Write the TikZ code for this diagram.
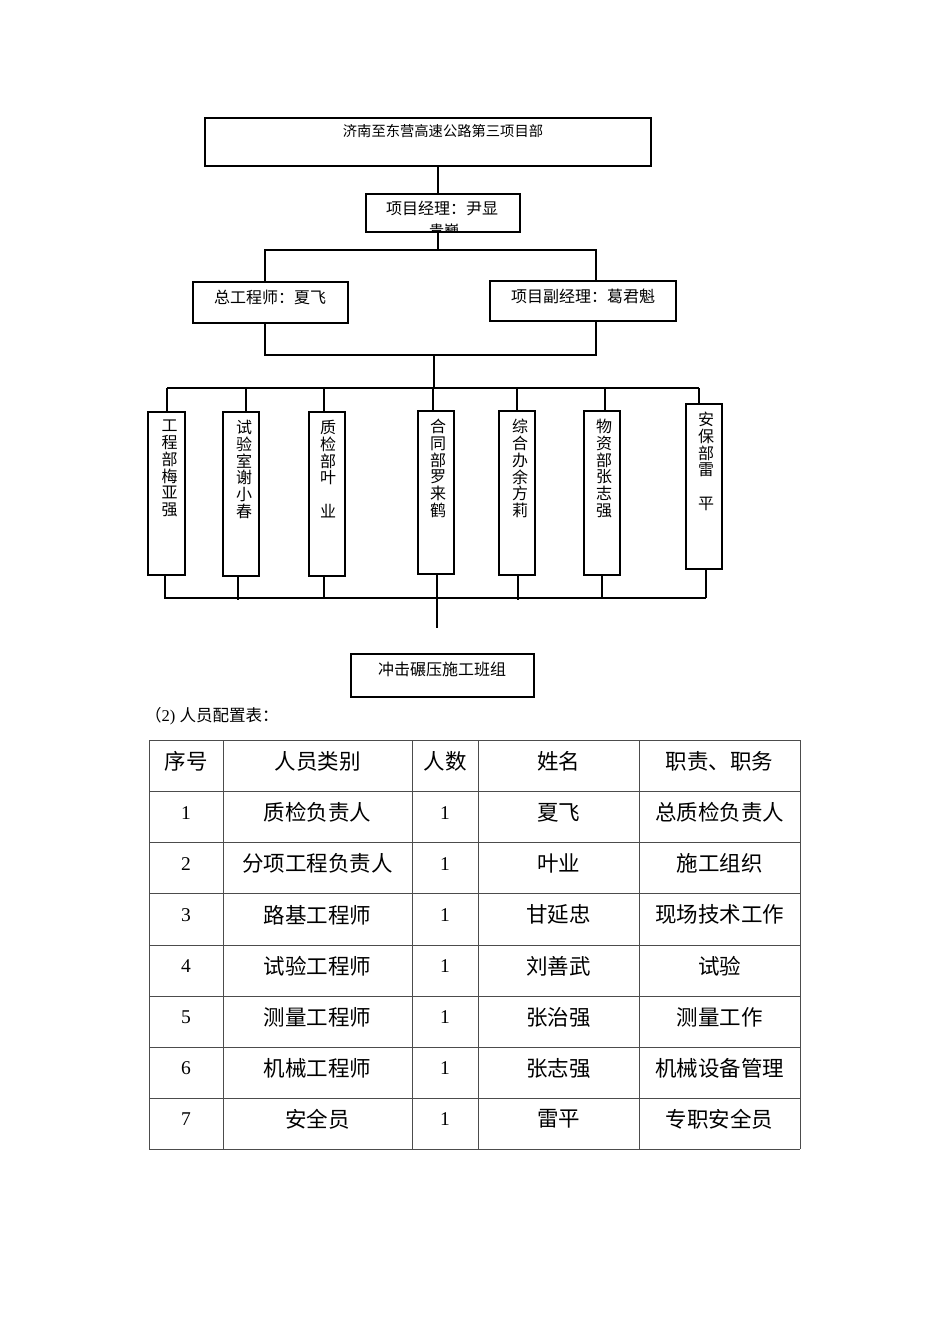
\documentclass[tikz,border=0pt]{standalone}
\usepackage{fontspec}
\setmainfont{Liberation Serif}
\newfontfamily\cjk{Noto Sans CJK SC}
\usetikzlibrary{calc}
\tikzset{
  orgbox/.style={draw, line width=1.2pt, inner sep=0pt},
  ln/.style={line width=1.2pt},
  txt/.style={inner sep=0pt, font=\cjk\fontsize{16}{16}\selectfont},
  vtxt/.style={inner sep=0pt, anchor=north, align=center, font=\cjk\fontsize{16}{16.8}\selectfont},
  grid/.style={line width=0.9pt, draw=black!70},
  cell/.style={inner sep=0pt, font=\cjk\fontsize{21.5}{21.5}\selectfont},
  num/.style={inner sep=0pt, font=\fontsize{19.5}{19.5}\selectfont}
}
\begin{document}
\begin{tikzpicture}[x=1pt,y=-1pt]
\useasboundingbox[fill=white] (0,0) rectangle (950,1344);

% top box
\node[orgbox, minimum width=446, minimum height=48] (top) at (428,142) {};
\node[txt, font=\cjk\fontsize{14.3}{14.3}\selectfont] (toptxt) at (443,131) {济南至东营高速公路第三项目部};

% project manager
\node[orgbox, minimum width=154, minimum height=38] (pm) at (443,213) {};
\node[txt] (pmtxt) at (442,208) {项目经理：尹显};
\begin{scope}
\clip (366,194) rectangle (520,231.5);
\node[txt, font=\cjk\fontsize{15}{15}\selectfont] (pmtxt2) at (444,230.5) {贵巍};
\end{scope}

% chief engineer & deputy manager
\node[orgbox, minimum width=155, minimum height=41] (ce) at (270.5,302.5) {};
\node[txt] (cetxt) at (270,297) {总工程师：夏飞};
\node[orgbox, minimum width=186, minimum height=40] (vm) at (583,301) {};
\node[txt] (vmtxt) at (583,296) {项目副经理：葛君魁};

% junction coordinates
\coordinate (v0) at (438,250);
\coordinate (jl) at (265,250);
\coordinate (jr) at (596,250);
\coordinate (kl) at (265,355);
\coordinate (kr) at (596,355);
\coordinate (km) at (434,355);
\coordinate (busm) at (434,388);

\draw[ln] (top.south -| v0) -- (pm.north -| v0);
\draw[ln] (pm.south -| v0) -- (v0);
\draw[ln] (ce.north -| jl) -- (jl) -- (jr) -- (vm.north -| jr);
\draw[ln] (ce.south -| kl) -- (kl) -- (kr) -- (vm.south -| kr);
\draw[ln] (km) -- (busm);

% department boxes
\node[orgbox, minimum width=37, minimum height=163] (b1) at (166.5,493.5) {};
\node[orgbox, minimum width=36, minimum height=164] (b2) at (241,494) {};
\node[orgbox, minimum width=36, minimum height=164] (b3) at (327,494) {};
\node[orgbox, minimum width=36, minimum height=163] (b4) at (436,492.5) {};
\node[orgbox, minimum width=36, minimum height=164] (b5) at (517,493) {};
\node[orgbox, minimum width=36, minimum height=164] (b6) at (602,493) {};
\node[orgbox, minimum width=36, minimum height=165] (b7) at (704,486.5) {};

\node[vtxt] (t1) at ($(b1.north)+(3,8.5)$) {工\\程\\部\\梅\\亚\\强};
\node[vtxt] (t2) at ($(b2.north)+(3,8.5)$) {试\\验\\室\\谢\\小\\春};
\node[vtxt] (t3) at ($(b3.north)+(1,8.5)$) {质\\检\\部\\叶\\\phantom{业}\\业};
\node[vtxt] (t4) at ($(b4.north)+(2,8.5)$) {合\\同\\部\\罗\\来\\鹤};
\node[vtxt] (t5) at ($(b5.north)+(3,8.5)$) {综\\合\\办\\余\\方\\莉};
\node[vtxt] (t6) at ($(b6.north)+(2,8.5)$) {物\\资\\部\\张\\志\\强};
\node[vtxt] (t7) at ($(b7.north)+(2,8.5)$) {安\\保\\部\\雷\\\phantom{平}\\平};

% upper bus
\coordinate (ub1) at (167,388);
\coordinate (ub2) at (246,388);
\coordinate (ub3) at (324,388);
\coordinate (ub4) at (433,388);
\coordinate (ub5) at (517,388);
\coordinate (ub6) at (605,388);
\coordinate (ub7) at (699,388);
\draw[ln] (ub1) -- (ub7);
\foreach \i in {1,...,7} { \draw[ln] (ub\i) -- (b\i.north -| ub\i); }

% lower bus
\coordinate (lb1) at (165,599);
\coordinate (lb2) at (238,600);
\coordinate (lb3) at (324,598);
\coordinate (lb4) at (437,598);
\coordinate (lb5) at (518,600);
\coordinate (lb6) at (602,598);
\coordinate (lb7) at (706,598);
\foreach \i in {1,...,7} { \draw[ln] (b\i.south -| lb\i) -- (lb\i); }
\draw[ln] (165,598) coordinate (lbl) -- (706,598) coordinate (lbr);
\coordinate (teamtop) at (437,628);
\draw[ln] (lb4) -- (teamtop);

% team box
\node[orgbox, minimum width=183, minimum height=43] (team) at (442.5,675.5) {};
\node[txt] (teamtxt) at (442,669) {冲击碾压施工班组};

% caption
\node[inner sep=0pt, anchor=west, font=\fontsize{16.5}{16.5}\selectfont] (cap) at (145,716) {{\cjk （}2) {\cjk 人员配置表：}};

% table grid
\foreach \y in {740,791,842,893,945,996,1047,1098,1149} { \draw[grid] (149,\y) -- (800,\y); }
\foreach \x in {149,223,412,478,639,800} { \draw[grid] (\x,740) -- (\x,1149); }

% header
\node[cell] (h1) at (186,761.5) {序号};
\node[cell] (h2) at (317.5,761.5) {人员类别};
\node[cell] (h3) at (445,761.5) {人数};
\node[cell] (h4) at (558.5,761.5) {姓名};
\node[cell] (h5) at (719.5,761.5) {职责、职务};

% rows
\foreach \i/\b/\d/\e [evaluate=\i as \yy using 740+51.1*\i+21.5] in {
  1/质检负责人/夏飞/总质检负责人,
  2/分项工程负责人/叶业/施工组织,
  3/路基工程师/甘延忠/现场技术工作,
  4/试验工程师/刘善武/试验,
  5/测量工程师/张治强/测量工作,
  6/机械工程师/张志强/机械设备管理,
  7/安全员/雷平/专职安全员} {
  \node[num] (r\i-1) at (186,\yy) {\i};
  \node[cell] (r\i-2) at (317.5,\yy) {\b};
  \node[num] (r\i-3) at (445,\yy) {1};
  \node[cell] (r\i-4) at (558.5,\yy) {\d};
  \node[cell] (r\i-5) at (719.5,\yy) {\e};
}
\end{tikzpicture}
\end{document}
